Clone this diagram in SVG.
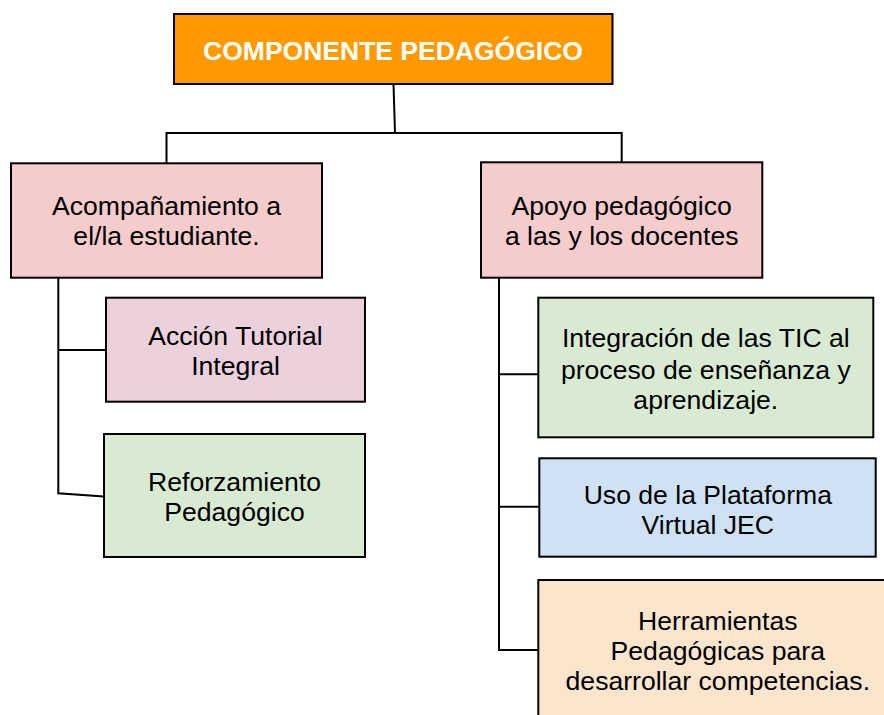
<svg xmlns="http://www.w3.org/2000/svg" width="884" height="715" viewBox="0 0 884 715">
<style>
.box{stroke:#000;stroke-width:2}
.t{font-family:"Liberation Sans",Arial,sans-serif;font-size:26.6px;fill:#000;text-anchor:middle}
.title{font-family:"Liberation Sans",Arial,sans-serif;font-size:26.5px;font-weight:bold;fill:#fff;text-anchor:middle}
.c{fill:none;stroke:#000;stroke-width:2}
</style>
<rect width="884" height="715" fill="#fff"/>
<g id="connectors">
<polyline class="c" points="393.5,84 395,133"/>
<polyline class="c" points="166.5,163 166.5,133 621.7,133 621.7,163"/>
<polyline class="c" points="58.3,277 58.3,493.3 104,496.5"/>
<line class="c" x1="58.3" y1="350" x2="106" y2="350"/>
<polyline class="c" points="499,277 499,650 539,650"/>
<line class="c" x1="499" y1="374.3" x2="538.3" y2="374.3"/>
<line class="c" x1="499" y1="506.7" x2="539.3" y2="506.7"/>
</g>
<g id="n-componente">
<rect class="box" x="174" y="14" width="438.5" height="70" fill="#ff9900"/>
<text class="title" x="393" y="60">COMPONENTE PEDAGÓGICO</text>
</g>
<g id="n-acompanamiento">
<rect class="box" x="11" y="163.3" width="311" height="114.4" fill="#f4cccc"/>
<text class="t" x="166.5" y="215">Acompañamiento a</text>
<text class="t" x="166.5" y="245">el/la estudiante.</text>
</g>
<g id="n-accion">
<rect class="box" x="106" y="297.7" width="259" height="104" fill="#ead1dc"/>
<text class="t" x="235.5" y="344.5">Acción Tutorial</text>
<text class="t" x="235.5" y="375">Integral</text>
</g>
<g id="n-reforzamiento">
<rect class="box" x="104" y="434" width="261" height="123" fill="#d9ead3"/>
<text class="t" x="234.5" y="490.5">Reforzamiento</text>
<text class="t" x="234.5" y="521">Pedagógico</text>
</g>
<g id="n-apoyo">
<rect class="box" x="481" y="162.3" width="281.3" height="115.4" fill="#f4cccc"/>
<text class="t" x="621.7" y="214.5">Apoyo pedagógico</text>
<text class="t" x="621.7" y="244.5">a las y los docentes</text>
</g>
<g id="n-integracion">
<rect class="box" x="538.3" y="297.7" width="335" height="139.6" fill="#d9ead3"/>
<text class="t" x="705.8" y="347">Integración de las TIC al</text>
<text class="t" x="705.8" y="378.5">proceso de enseñanza y</text>
<text class="t" x="705.8" y="408.5">aprendizaje.</text>
</g>
<g id="n-uso">
<rect class="box" x="539.3" y="458.3" width="336.4" height="98.4" fill="#cfe2f3"/>
<text class="t" x="707.8" y="503.5">Uso de la Plataforma</text>
<text class="t" x="707.8" y="534">Virtual JEC</text>
</g>
<g id="n-herramientas">
<rect class="box" x="538.3" y="580" width="358" height="150" fill="#fce5cd"/>
<text class="t" x="717.8" y="630">Herramientas</text>
<text class="t" x="717.8" y="660">Pedagógicas para</text>
<text class="t" x="717.8" y="690">desarrollar competencias.</text>
</g>
</svg>
